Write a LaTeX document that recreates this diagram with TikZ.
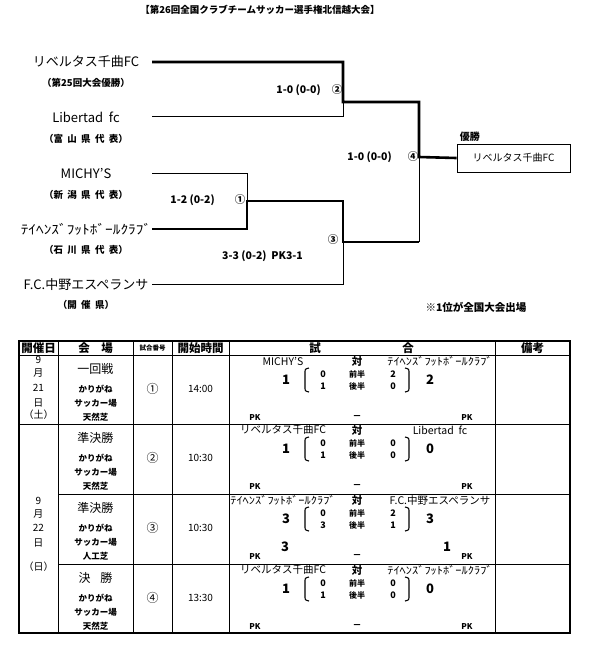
\documentclass[tikz,border=0pt]{standalone}
\usepackage{fontspec}
\setmainfont{Noto Sans CJK JP}
\usepackage{graphicx}
\usetikzlibrary{positioning}
\newcommand{\hwteam}{\scalebox{1.18}[1]{ﾃｲﾍﾝｽﾞﾌｯﾄﾎﾞｰﾙｸﾗﾌﾞ}}
\newcommand{\kspace}{\hspace{0.45em}}

\begin{document}
\begin{tikzpicture}[x=1pt, y=-1pt,
    team/.style={inner sep=0pt, font=\fontsize{13}{13}\selectfont},
    pref/.style={inner sep=0pt, font=\fontsize{9.5}{9.5}\selectfont\bfseries},
    result/.style={inner sep=0pt, font=\fontsize{10.5}{10.5}\selectfont\bfseries},
    winline/.style={line width=2.6pt},
    loseline/.style={line width=0.8pt},
    headtext/.style={inner sep=0pt, font=\fontsize{11.5}{11.5}\selectfont\bfseries},
    cell/.style={inner sep=0pt, font=\fontsize{10}{10}\selectfont},
    venue/.style={inner sep=0pt, font=\fontsize{8.5}{8.5}\selectfont\bfseries},
    goal/.style={inner sep=0pt, font=\fontsize{9}{9}\selectfont\bfseries},
    biggoal/.style={inner sep=0pt, font=\fontsize{13}{13}\selectfont\bfseries},
    halflabel/.style={inner sep=0pt, font=\fontsize{8}{8}\selectfont\bfseries},
    paren/.style={line width=1.1pt},
    tablerule/.style={line width=0.6pt}
]
\useasboundingbox (0,0) rectangle (590,649);

\node[inner sep=0pt, font=\fontsize{9.5}{9.5}\selectfont\bfseries] (title) at (260,10)
    {【第26回全国クラブチームサッカー選手権北信越大会】};

% teams
\node[team] (t1) at (86,62) {リベルタス千曲FC};
\node[pref] (p1) at (86,83) {（第25回大会優勝）};
\node[team] (t2) at (86,117) {Libertad\ \ fc};
\node[pref] (p2) at (86,139) {（富\kspace 山\kspace 県\kspace 代\kspace 表）};
\node[team] (t3) at (86,174) {MICHY'S};
\node[pref] (p3) at (86,195) {（新\kspace 潟\kspace 県\kspace 代\kspace 表）};
\node[team] (t4) at (86,229) {\hwteam};
\node[pref] (p4) at (86,250) {（石\kspace 川\kspace 県\kspace 代\kspace 表）};
\node[team] (t5) at (86,285) {F.C.中野エスペランサ};
\node[pref] (p5) at (86,305) {（開\kspace 催\kspace 県）};

\coordinate (e1) at (152,62);
\coordinate (e2) at (152,116);
\coordinate (e3) at (152,173);
\coordinate (e4) at (152,229);
\coordinate (e5) at (152,284);
\coordinate (m1) at (247,201);
\coordinate (m2) at (343,102);
\coordinate (m3) at (343,242);
\coordinate (m4) at (419,157);

\node[draw, loseline, minimum width=113pt, minimum height=28pt,
    font=\fontsize{10}{10}\selectfont] (champ) at (513.5,158) {リベルタス千曲FC};
\node[inner sep=0pt, font=\fontsize{10}{10}\selectfont\bfseries,
    above right=2pt and 3pt of champ.north west] (champlbl) {優勝};

\draw[loseline] (e2) -| (m2);
\draw[loseline] (e3) -| (m1);
\draw[loseline] (e5) -| (m3);
\draw[loseline] (m3 -| m4) -- (m4);
\draw[winline] (e1) -| (m2) -| (m4) -- (champ.west);
\draw[winline] (e4) -| (m1) -| (m3) -- (m3 -| m4);

\node[result, anchor=east] (s1) at (215,200) {1-2 (0-2)};
\node[result] (n1) at (240,200) {①};
\node[result, anchor=east] (s2) at (321,90) {1-0 (0-0)};
\node[result] (n2) at (337,90) {②};
\node[result, anchor=west] (s3) at (222,256) {3-3 (0-2)\ \ PK3-1};
\node[result] (n3) at (333,240) {③};
\node[result, anchor=east] (s4) at (392,157) {1-0 (0-0)};
\node[result] (n4) at (413,157) {④};

\node[inner sep=0pt, font=\fontsize{10.5}{10.5}\selectfont\bfseries] (note) at (476,307) {※1位が全国大会出場};

% table
\draw[line width=2pt] (19,341) rectangle (570,633);
\draw[tablerule] (19,355) -- (570,355);
\draw[tablerule] (19,424) -- (570,424);
\draw[tablerule] (58,494) -- (570,494);
\draw[tablerule] (58,564) -- (570,564);
\foreach \cx in {58,133,172,229,495}
    \draw[tablerule] (\cx,341) -- (\cx,633);

\node[headtext] (h1) at (38.5,348) {開催日};
\node[headtext] (h2) at (95.5,348) {会\hspace{1em}場};
\node[inner sep=0pt, font=\fontsize{6.5}{6.5}\selectfont\bfseries] (h3) at (152.5,348) {試合番号};
\node[headtext] (h4) at (200.5,348) {開始時間};
\node[headtext] (h5) at (315,348) {試};
\node[headtext] (h6) at (408,348) {合};
\node[headtext] (h7) at (532.5,348) {備考};

\node[cell] (d1) at (38.5,360) {9};
\node[cell] (d2) at (38.5,373) {月};
\node[cell] (d3) at (38.5,388) {21};
\node[cell] (d4) at (38.5,403) {日};
\node[cell] (d5) at (38.5,415) {（土）};
\node[cell] (d6) at (38.5,501) {9};
\node[cell] (d7) at (38.5,514) {月};
\node[cell] (d8) at (38.5,528) {22};
\node[cell] (d9) at (38.5,543) {日};
\node[cell] (d10) at (38.5,567) {（日）};

\foreach \yy/\stage/\num/\kick/\turf [count=\i] in {
    355/一回戦/①/14:00/天然芝,
    424/準決勝/②/10:30/天然芝,
    494/準決勝/③/10:30/人工芝,
    564/決\hspace{0.8em}勝/④/13:30/天然芝} {
  \node[headtext, font=\fontsize{12}{12}\selectfont] (stage\i) at (95.5,\yy+14) {\stage};
  \node[venue] (field\i) at (95.5,\yy+34) {かりがね};
  \node[venue] (place\i) at (95.5,\yy+48) {サッカー場};
  \node[venue] (turf\i) at (95.5,\yy+62) {\turf};
  \node[cell, font=\fontsize{12}{12}\selectfont] (num\i) at (152.5,\yy+34) {\num};
  \node[cell] (kick\i) at (200.5,\yy+34) {\kick};
}

\foreach \yy/\lname/\rname/\lsc/\lfa/\lsa/\rfa/\rsa/\rsc [count=\i] in {
    355/MICHY'S/\hwteam/1/0/1/2/0/2,
    424/リベルタス千曲FC/Libertad\ \ fc/1/0/1/0/0/0,
    494/\hwteam/F.C.中野エスペランサ/3/0/3/2/1/3,
    564/リベルタス千曲FC/\hwteam/1/0/1/0/0/0} {
  \node[cell, font=\fontsize{10.5}{10.5}\selectfont] (lname\i) at (283,\yy+6) {\lname};
  \node[cell, font=\fontsize{10.5}{10.5}\selectfont\bfseries] (vs\i) at (357,\yy+6) {対};
  \node[cell, font=\fontsize{10.5}{10.5}\selectfont] (rname\i) at (440,\yy+6) {\rname};
  \node[biggoal] (lsc\i) at (286,\yy+25) {\lsc};
  \node[goal] (lfa\i) at (323,\yy+19) {\lfa};
  \node[goal] (lsa\i) at (323,\yy+31) {\lsa};
  \node[halflabel] (fh\i) at (357,\yy+19) {前半};
  \node[halflabel] (sh\i) at (357,\yy+31) {後半};
  \node[goal] (rfa\i) at (393,\yy+19) {\rfa};
  \node[goal] (rsa\i) at (393,\yy+31) {\rsa};
  \node[biggoal] (rsc\i) at (430,\yy+25) {\rsc};
  \draw[paren] (309,\yy+13) .. controls (305,\yy+14) .. (305,\yy+18) -- (305,\yy+32)
      .. controls (305,\yy+36) .. (309,\yy+37);
  \draw[paren] (405,\yy+13) .. controls (409,\yy+14) .. (409,\yy+18) -- (409,\yy+32)
      .. controls (409,\yy+36) .. (405,\yy+37);
  \node[halflabel] (lpk\i) at (255,\yy+63) {PK};
  \node[goal] (dash\i) at (357,\yy+63) {－};
  \node[halflabel] (rpk\i) at (467,\yy+63) {PK};
}
\node[biggoal] (lpkscore) at (285,547) {3};
\node[biggoal] (rpkscore) at (447,547) {1};
\end{tikzpicture}
\end{document}
